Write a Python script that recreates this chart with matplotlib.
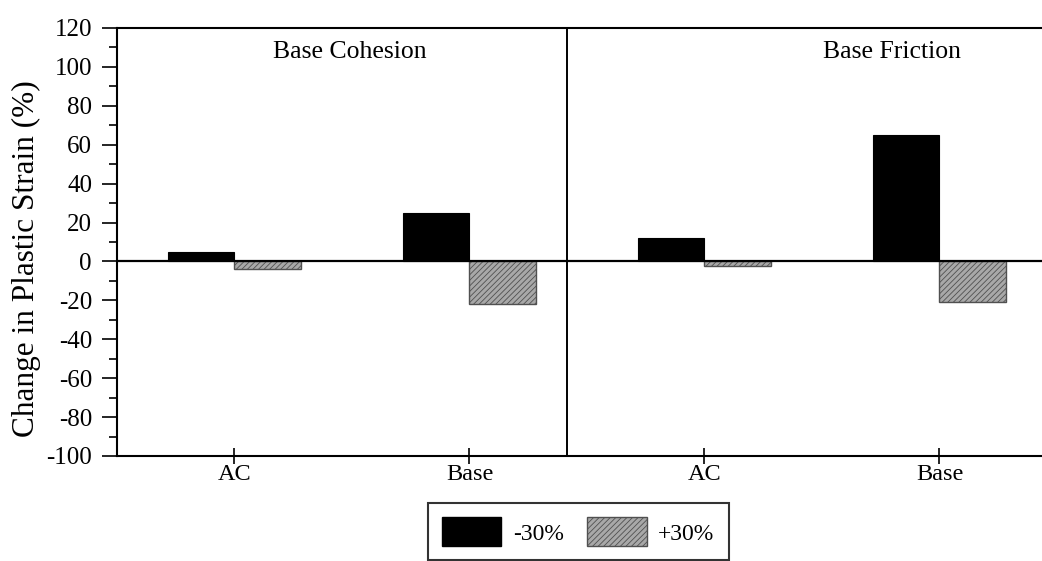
import matplotlib
matplotlib.use("Agg")
import matplotlib.pyplot as plt
import numpy as np
from matplotlib.patches import Patch

plt.rcParams['font.family'] = ['Liberation Serif', 'DejaVu Serif']
plt.rcParams['hatch.linewidth'] = 0.6

# Data
categories = ["AC", "Base", "AC", "Base"]
panels = ["Base Cohesion", "Base Friction"]
minus30 = [5, 25, 12, 65]
plus30 = [-4, -22, -2.5, -21]
series_labels = ["-30%", "+30%"]
yticks = [-100, -80, -60, -40, -20, 0, 20, 40, 60, 80, 100, 120]

W, H = 1042, 561
fig = plt.figure(figsize=(W / 100, H / 100), dpi=100)
left_px, right_px, top_px, bot_px = 117, 1057, 28, 456
ax = fig.add_axes([left_px / W, 1 - bot_px / H, (right_px - left_px) / W, (bot_px - top_px) / H])

x = np.arange(len(categories)) + 0.5
bw = 0.285
grey = '#a8a8a8'
ax.bar(x - bw / 2, minus30, bw, color='black', edgecolor='black', linewidth=0.8, zorder=3)
ax.bar(x + bw / 2, plus30, bw, color=grey, edgecolor='#505050', hatch='//////',
       linewidth=1.0, zorder=3)

ax.set_xlim(0, 4)
ax.set_ylim(-100, 120)
ax.axhline(0, color='black', lw=1.6, zorder=4)
ax.axvline(1.915, color='black', lw=1.4, zorder=4)

ax.set_yticks(yticks)
ax.set_yticklabels([str(v) for v in yticks], fontsize=18)
ax.set_yticks(np.arange(-90, 120, 20), minor=True)
ax.tick_params(axis='y', which='major', direction='out', length=11, width=1.2, pad=7)
ax.tick_params(axis='y', which='minor', direction='out', length=6, width=1.2)
ax.set_xticks(x)
ax.set_xticklabels(categories, fontsize=17.5)
ax.tick_params(axis='x', which='major', direction='inout', length=12, width=1.2, pad=0)

for s in ['left', 'top', 'bottom']:
    ax.spines[s].set_linewidth(1.5)
ax.spines['right'].set_visible(False)

ax.set_ylabel("Change in Plastic Strain (%)", fontsize=22.5)
ax.yaxis.set_label_coords(-0.081, 0.46)

ax.text(0.99, 107.8, panels[0], fontsize=18.5, ha='center', va='center')
ax.text(3.30, 107.8, panels[1], fontsize=18.5, ha='center', va='center')

handles = [Patch(facecolor='black', edgecolor='black'),
           Patch(facecolor=grey, edgecolor='#505050', hatch='//////')]
leg = fig.legend(handles, series_labels, loc='upper left',
                 bbox_to_anchor=(428 / W, 1 - 503 / H), ncol=2, fontsize=17,
                 frameon=True, fancybox=False, handlelength=2.5, handleheight=1.52,
                 handletextpad=0.5, columnspacing=1.0, borderpad=0.6, borderaxespad=0)
leg.get_frame().set_edgecolor('black')
leg.get_frame().set_linewidth(1.5)

fig.savefig("out.png", dpi=100)
